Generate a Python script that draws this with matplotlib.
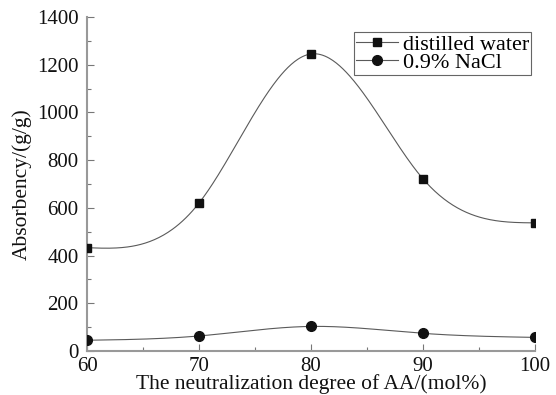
import numpy as np
import matplotlib
matplotlib.use("Agg")
import matplotlib.pyplot as plt
from matplotlib.ticker import MultipleLocator

x = [60, 70, 80, 90, 100]
distilled_water = [433, 620, 1245, 722, 537]
nacl = [45, 63, 103, 74, 57]


def natural_spline(xs, ys, n=400):
    xs = np.asarray(xs, float)
    ys = np.asarray(ys, float)
    k = len(xs)
    h = np.diff(xs)
    A = np.zeros((k, k))
    b = np.zeros(k)
    A[0, 0] = 1
    A[-1, -1] = 1
    for i in range(1, k - 1):
        A[i, i - 1] = h[i - 1]
        A[i, i] = 2 * (h[i - 1] + h[i])
        A[i, i + 1] = h[i]
        b[i] = 6 * ((ys[i + 1] - ys[i]) / h[i] - (ys[i] - ys[i - 1]) / h[i - 1])
    M = np.linalg.solve(A, b)
    xx = np.linspace(xs[0], xs[-1], n)
    yy = np.empty_like(xx)
    for j, t in enumerate(xx):
        i = min(np.searchsorted(xs, t, side="right") - 1, k - 2)
        dx1 = xs[i + 1] - t
        dx0 = t - xs[i]
        hi = h[i]
        yy[j] = (M[i] * dx1 ** 3 / (6 * hi) + M[i + 1] * dx0 ** 3 / (6 * hi)
                 + (ys[i] / hi - M[i] * hi / 6) * dx1
                 + (ys[i + 1] / hi - M[i + 1] * hi / 6) * dx0)
    return xx, yy


plt.rcParams['font.family'] = ['Liberation Serif', 'DejaVu Serif']

fig = plt.figure(figsize=(5.56, 3.95), dpi=100)
ax = fig.add_axes([0.1565, 0.1114, 0.8055, 0.8456])

line_color = '#5a5a5a'
for ys, marker, ms, label in [(distilled_water, 's', 6, 'distilled water'),
                              (nacl, 'o', 7, '0.9% NaCl')]:
    xx, yy = natural_spline(x, ys)
    ax.plot(xx, yy, color=line_color, lw=0.8, zorder=2)
    ax.plot(x, ys, linestyle='none', marker=marker, ms=ms, color='#111111', zorder=3)
    ax.plot([], [], color=line_color, lw=0.8, marker=marker, ms=ms,
            markerfacecolor='#111111', markeredgecolor='#111111', label=label)

ax.set_xlim(60, 100)
ax.set_ylim(0, 1400)
ax.xaxis.set_major_locator(MultipleLocator(10))
ax.xaxis.set_minor_locator(MultipleLocator(5))
ax.yaxis.set_major_locator(MultipleLocator(200))
ax.yaxis.set_minor_locator(MultipleLocator(100))

for s in ['top', 'right']:
    ax.spines[s].set_visible(False)
for s in ['left', 'bottom']:
    ax.spines[s].set_color('#999999')
    ax.spines[s].set_linewidth(1.5)

ax.tick_params(which='both', direction='in', colors='#777777', labelcolor='#111111',
               labelsize=15)
ax.tick_params(which='major', length=5, width=0.8, pad=6)
ax.tick_params(axis='x', which='major', pad=4)
ax.tick_params(which='minor', length=3, width=0.8)

ax.set_xlabel('The neutralization degree of AA/(mol%)', fontsize=15.5, color='#111111',
              labelpad=-1)
ax.set_ylabel('Absorbency/(g/g)', fontsize=15.5, color='#111111', labelpad=4)

leg = ax.legend(loc='upper right', bbox_to_anchor=(0.992, 0.955), fontsize=16,
                frameon=True, fancybox=False, framealpha=1, edgecolor='#666666',
                borderpad=0.1, labelspacing=-0.1, handlelength=1.9, handletextpad=0.2,
                borderaxespad=0)
leg.get_frame().set_linewidth(0.8)

fig.savefig('out.png', dpi=100)
